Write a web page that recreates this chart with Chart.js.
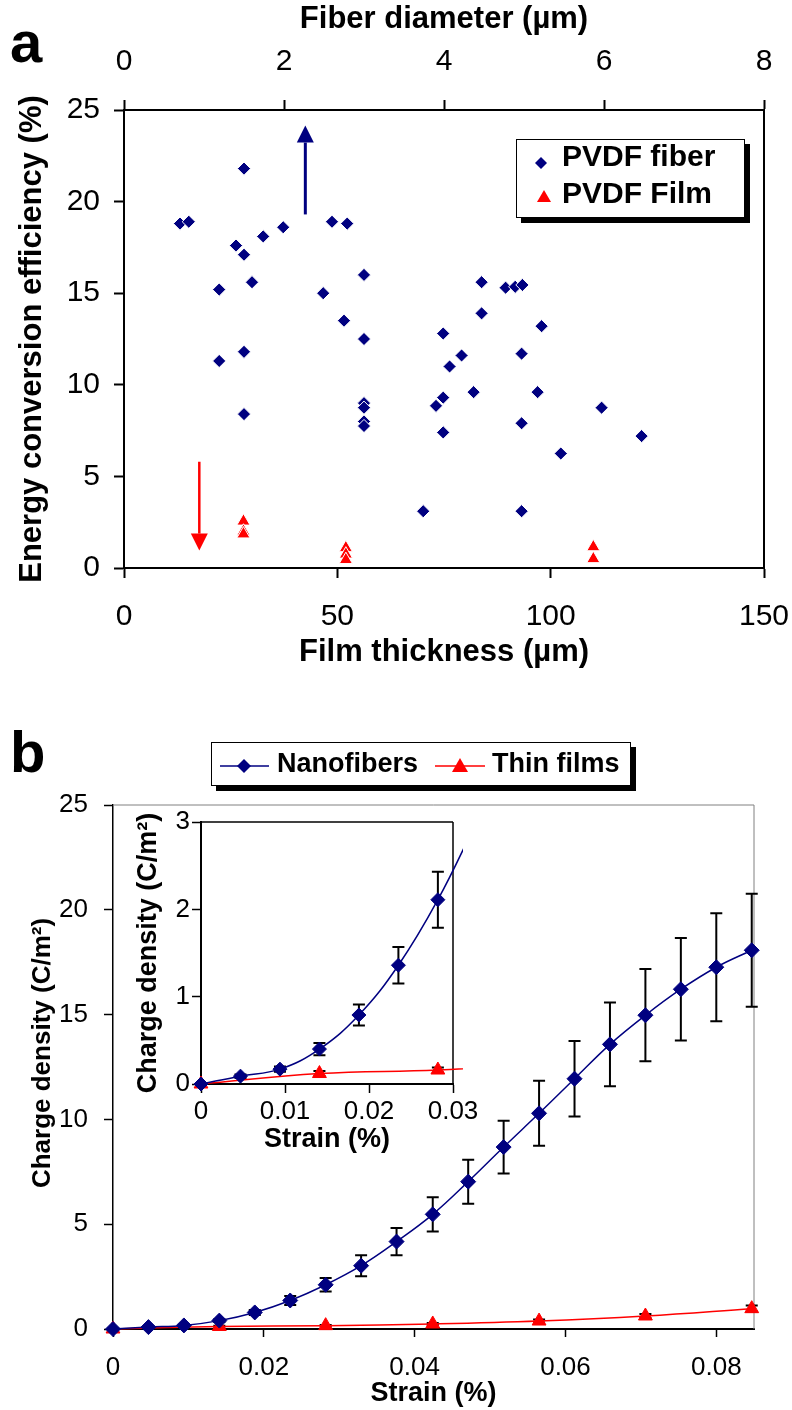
<!DOCTYPE html>
<html>
<head>
<meta charset="utf-8">
<script src="https://cdn.jsdelivr.net/npm/chart.js@4.4.1/dist/chart.umd.min.js"></script>
<style>
  html, body { margin:0; padding:0; background:#fff; }
  body { width:792px; height:1410px; position:relative; overflow:hidden; font-family:"Liberation Sans", Arial, Helvetica, sans-serif; color:#000; }
  canvas { position:absolute; }
  .panel { position:absolute; font-weight:bold; font-size:58px; line-height:58px; }
  .legend { position:absolute; background:#fff; border:1px solid #000; box-shadow:5px 5px 0 #000; z-index:5; }
  .legend span { position:absolute; font-weight:bold; white-space:nowrap; }
  .legend svg { position:absolute; left:0; top:0; }
</style>
</head>
<body>
<canvas id="chartA" width="792" height="690" style="left:0;top:0"></canvas>
<canvas id="chartB" width="792" height="710" style="left:0;top:700px"></canvas>
<canvas id="chartInset" width="370" height="360" style="left:110px;top:800px"></canvas>
<div class="panel" style="left:10px;top:13px">a</div>
<div class="panel" style="left:10px;top:723px">b</div>
<div class="legend" style="left:516px;top:139px;width:227px;height:77px">
  <svg width="227" height="77"><polygon points="24,17 30,23 24,29 18,23" fill="#000080"/><polygon points="27,50 34,62 20,62" fill="#ff0000"/></svg>
  <span style="left:45px;top:1px;font-size:30px;line-height:30px">PVDF fiber</span>
  <span style="left:45px;top:38px;font-size:30px;line-height:30px">PVDF Film</span>
</div>
<div class="legend" style="left:211px;top:742px;width:418px;height:42px">
  <svg width="418" height="42"><line x1="8" y1="23" x2="57" y2="23" stroke="#000080" stroke-width="1.5"/><polygon points="32,16 39,23 32,30 25,23" fill="#000080"/><line x1="223" y1="23" x2="273" y2="23" stroke="#ff0000" stroke-width="1.5"/><polygon points="248,15 256,29 240,29" fill="#ff0000"/></svg>
  <span style="left:65px;top:7px;font-size:27px;line-height:27px">Nanofibers</span>
  <span style="left:280px;top:7px;font-size:27px;line-height:27px">Thin films</span>
</div>
<script>
// ---------------- Panel a data ----------------
const diameterTicks = [0, 2, 4, 6, 8];
const thicknessTicks = [0, 50, 100, 150];
const efficiencyTicks = [0, 5, 10, 15, 20, 25];

const fiberDiameter = [0.70,0.81,1.50,1.40,1.50,1.74,1.99,1.19,1.60,2.60,2.79,3.00,2.49,2.75,3.00,1.19,1.50,1.50,3.00,3.00,3.00,3.00,3.74,3.99,4.07,4.22,3.99,3.90,3.99,4.37,4.47,4.47,4.77,4.89,4.98,4.97,5.17,5.22,4.97,4.97,5.46,5.97,6.47];
const fiberEfficiency = [18.8,18.9,21.8,17.6,17.1,18.1,18.6,15.2,15.6,18.9,18.8,16.0,15.0,13.5,12.5,11.3,11.8,8.4,9.0,8.75,8.0,7.75,3.1,12.8,11.0,11.6,9.3,8.85,7.4,9.6,15.6,13.9,15.3,15.35,15.45,11.7,9.6,13.2,7.9,3.1,6.25,8.75,7.2];

const filmThickness = [28, 28, 28, 52, 52, 52, 110, 110];
const filmEfficiency = [2.55, 2.0, 1.85, 1.1, 0.75, 0.45, 1.15, 0.5];

const arrowThickness = [42.5, 17.65];
const arrowStart = [19.3, 5.8];
const arrowEnd = [24.15, 0.95];

// ---------------- Panel b data ----------------
const strainTicks = [0, 0.02, 0.04, 0.06, 0.08];
const chargeTicks = [0, 5, 10, 15, 20, 25];
const insetStrainTicks = [0, 0.01, 0.02, 0.03];
const insetChargeTicks = [0, 1, 2, 3];

const strain = [0,0.0047,0.0094,0.0141,0.0188,0.0235,0.0282,0.0329,0.0376,0.0424,0.0471,0.0518,0.0565,0.0612,0.0659,0.0706,0.0753,0.0800,0.0847];
const nanofibers = [0,0.09,0.17,0.40,0.79,1.36,2.11,3.02,4.17,5.47,7.03,8.68,10.29,11.94,13.58,14.97,16.21,17.26,18.07];
const nanofiberErr = [0.01,0.02,0.03,0.07,0.12,0.21,0.32,0.50,0.65,0.82,1.05,1.26,1.55,1.80,2.00,2.20,2.45,2.58,2.70];

const filmStrain = [0,0.0141,0.0282,0.0424,0.0565,0.0706,0.0847];
const thinFilms = [0,0.12,0.16,0.24,0.38,0.62,0.97];
const thinFilmErr = [0.01,0.03,0.03,0.05,0.07,0.10,0.15];

const insetFiberCount = 8;
const insetFilmCount = 4;

// ---------------- helpers ----------------
Chart.defaults.font.family = '"Liberation Sans", Arial, Helvetica, sans-serif';
Chart.defaults.color = '#000';

function axis(o) {
  return {
    type: 'linear',
    position: o.position,
    min: o.min, max: o.max,
    afterBuildTicks: s => { s.ticks = o.ticks.map(v => ({ value: v })); },
    afterFit: s => {
      if (o.width !== undefined) s.width = o.width;
      if (o.height !== undefined) s.height = o.height;
      s.paddingLeft = 0; s.paddingRight = 0; s.paddingTop = 0; s.paddingBottom = 0;
    },
    ticks: { font: { size: o.tickSize }, color: '#000', padding: o.tickPad, callback: v => String(v), maxRotation: 0, autoSkip: false },
    grid: { display: true, drawOnChartArea: false, drawTicks: true, tickLength: o.tickLen, tickWidth: o.tickW || 1.5, tickColor: '#000' },
    border: { display: true, color: '#000', width: o.borderW || 1.5 },
    title: { display: o.title !== null, text: o.title || '', font: { size: o.titleSize, weight: 'bold' }, color: '#000', padding: o.titlePad }
  };
}

function framePlugin(id, sides) {
  return {
    id: id,
    beforeDatasetsDraw(chart) {
      const { left, right, top, bottom } = chart.chartArea;
      const ctx = chart.ctx;
      ctx.save();
      sides.forEach(s => {
        ctx.strokeStyle = s.color; ctx.lineWidth = s.width;
        ctx.beginPath();
        if (s.side === 'top') { ctx.moveTo(left, top); ctx.lineTo(right, top); }
        if (s.side === 'right') { ctx.moveTo(right, top); ctx.lineTo(right, bottom); }
        ctx.stroke();
      });
      ctx.restore();
    }
  };
}

// rotated y-axis title placed independently of the axis centre
function yTitlePlugin(id, text, size, x, y) {
  return {
    id: id,
    afterDraw(chart) {
      const ctx = chart.ctx;
      ctx.save();
      ctx.translate(x, y);
      ctx.rotate(-Math.PI / 2);
      ctx.font = 'bold ' + size + 'px "Liberation Sans", Arial, Helvetica, sans-serif';
      ctx.fillStyle = '#000';
      ctx.textAlign = 'center';
      ctx.textBaseline = 'middle';
      ctx.fillText(text, 0, 0);
      ctx.restore();
    }
  };
}

const errorBarPlugin = {
  id: 'errorBars',
  beforeDatasetsDraw(chart) {
    const ctx = chart.ctx;
    chart.data.datasets.forEach((ds, di) => {
      if (!ds.errorBars) return;
      const meta = chart.getDatasetMeta(di);
      const xs = chart.scales[meta.xAxisID], ys = chart.scales[meta.yAxisID];
      const a = chart.chartArea;
      ctx.save();
      if (ds.errClipRight !== undefined) {
        ctx.beginPath();
        ctx.rect(a.left - 20, a.top, (a.right + ds.errClipRight) - (a.left - 20), a.bottom - a.top + 20);
        ctx.clip();
      }
      ctx.strokeStyle = '#000';
      ctx.lineWidth = ds.errWidth || 1.5;
      ds.data.forEach((p, i) => {
        const e = ds.errorBars[i];
        if (!e) return;
        const x = xs.getPixelForValue(p.x);
        const y1 = ys.getPixelForValue(p.y + e), y2 = ys.getPixelForValue(p.y - e);
        const c = ds.errCap || 6;
        ctx.beginPath();
        ctx.moveTo(x, y1); ctx.lineTo(x, y2);
        ctx.moveTo(x - c, y1); ctx.lineTo(x + c, y1);
        ctx.moveTo(x - c, y2); ctx.lineTo(x + c, y2);
        ctx.stroke();
      });
      ctx.restore();
    });
  }
};

const arrowPlugin = {
  id: 'arrows',
  afterDatasetsDraw(chart) {
    const xs = chart.scales.x, ys = chart.scales.y, ctx = chart.ctx;
    const colors = ['#000080', '#ff0000'], widths = [3, 2.5];
    arrowThickness.forEach((ax, i) => {
      const x = xs.getPixelForValue(ax);
      const y0 = ys.getPixelForValue(arrowStart[i]);
      const y1 = ys.getPixelForValue(arrowEnd[i]);
      const dir = Math.sign(y1 - y0), headLen = 17, headHalf = 8.5;
      ctx.save();
      ctx.strokeStyle = colors[i]; ctx.fillStyle = colors[i]; ctx.lineWidth = widths[i];
      ctx.beginPath(); ctx.moveTo(x, y0); ctx.lineTo(x, y1 - dir * headLen); ctx.stroke();
      ctx.beginPath(); ctx.moveTo(x, y1); ctx.lineTo(x - headHalf, y1 - dir * headLen); ctx.lineTo(x + headHalf, y1 - dir * headLen); ctx.closePath(); ctx.fill();
      ctx.restore();
    });
  }
};

const common = { responsive: false, animation: false, devicePixelRatio: 1, events: [] };

// ---------------- Chart a ----------------
new Chart(document.getElementById('chartA'), {
  type: 'scatter',
  data: {
    datasets: [
      { label: 'PVDF fiber', data: fiberDiameter.map((d, i) => ({ x: d, y: fiberEfficiency[i] })), xAxisID: 'x2', yAxisID: 'y',
        pointStyle: 'rectRot', pointRadius: 6.6, backgroundColor: '#000080', borderColor: '#ffffff', borderWidth: 1, clip: false },
      { label: 'PVDF Film', data: filmThickness.map((t, i) => ({ x: t, y: filmEfficiency[i] })), xAxisID: 'x', yAxisID: 'y',
        pointStyle: 'triangle', pointRadius: 7.6, backgroundColor: '#ff0000', borderColor: '#ffffff', borderWidth: 1, clip: false }
    ]
  },
  options: Object.assign({}, common, {
    layout: { padding: { left: 0, right: 28, top: 0, bottom: 0 } },
    plugins: { legend: { display: false }, tooltip: { enabled: false } },
    scales: {
      x: axis({ position: 'bottom', min: 0, max: 150, ticks: thicknessTicks, height: 122, tickSize: 30, tickPad: 21, tickLen: 10, tickW: 2, borderW: 2,
        title: 'Film thickness (µm)', titleSize: 31, titlePad: { top: 0, bottom: 19 } }),
      x2: axis({ position: 'top', min: 0, max: 8, ticks: diameterTicks, height: 110, tickSize: 30, tickPad: 20, tickLen: 10, tickW: 2, borderW: 2,
        title: 'Fiber diameter (µm)', titleSize: 31, titlePad: { top: 1, bottom: 0 } }),
      y: axis({ position: 'left', min: 0, max: 25, ticks: efficiencyTicks, width: 124, tickSize: 30, tickPad: 14, tickLen: 10, tickW: 2, borderW: 2,
        title: 'Energy conversion efficiency (%)', titleSize: 31, titlePad: { top: 14, bottom: 0 } })
    }
  }),
  plugins: [framePlugin('frameA', [{ side: 'right', color: '#000', width: 2 }]), arrowPlugin]
});

// ---------------- Chart b (main) ----------------
new Chart(document.getElementById('chartB'), {
  type: 'scatter',
  data: {
    datasets: [
      { label: 'Nanofibers', data: strain.map((s, i) => ({ x: s, y: nanofibers[i] })), showLine: true, tension: 0.4,
        borderColor: '#000080', borderWidth: 1.5, backgroundColor: '#000080', pointBorderColor: '#000080', pointBorderWidth: 1,
        pointStyle: 'rectRot', pointRadius: 7.5, clip: false, errorBars: nanofiberErr, errCap: 6, errWidth: 2 },
      { label: 'Thin films', data: filmStrain.map((s, i) => ({ x: s, y: thinFilms[i] })), showLine: true, tension: 0.4,
        borderColor: '#ff0000', borderWidth: 1.5, backgroundColor: '#ff0000', pointBorderColor: '#ff0000', pointBorderWidth: 1,
        pointStyle: 'triangle', pointRadius: 8, clip: false, errorBars: thinFilmErr, errCap: 6, errWidth: 2 }
    ]
  },
  options: Object.assign({}, common, {
    layout: { padding: { left: 0, right: 38, top: 105, bottom: 0 } },
    plugins: { legend: { display: false }, tooltip: { enabled: false } },
    scales: {
      x: axis({ position: 'bottom', min: 0, max: 0.085, ticks: strainTicks, height: 81, tickSize: 26, tickPad: 15, tickLen: 8, tickW: 1.5, borderW: 2,
        title: 'Strain (%)', titleSize: 27, titlePad: { top: 0, bottom: 0 } }),
      y: axis({ position: 'left', min: 0, max: 25, ticks: chargeTicks, width: 113, tickSize: 26, tickPad: 16, tickLen: 9, tickW: 1.5, borderW: 1.5,
        title: null, titleSize: 26, titlePad: { top: 28, bottom: 0 } })
    }
  }),
  plugins: [framePlugin('frameB', [{ side: 'top', color: '#808080', width: 1 }, { side: 'right', color: '#808080', width: 1 }]), errorBarPlugin,
            yTitlePlugin('yTitleB', 'Charge density (C/m²)', 26, 43, 353)]
});

// ---------------- Chart b (inset) ----------------
const insetClip = { left: 12, top: 0, right: 10, bottom: 12 };
new Chart(document.getElementById('chartInset'), {
  type: 'scatter',
  data: {
    datasets: [
      { label: 'Nanofibers', data: strain.slice(0, insetFiberCount).map((s, i) => ({ x: s, y: nanofibers[i] })), showLine: true, tension: 0.4,
        borderColor: '#000080', borderWidth: 1.5, backgroundColor: '#000080', pointBorderColor: '#000080', pointBorderWidth: 1,
        pointStyle: 'rectRot', pointRadius: 7, clip: insetClip, errorBars: nanofiberErr.slice(0, insetFiberCount), errCap: 6, errWidth: 2, errClipRight: 0 },
      { label: 'Thin films', data: filmStrain.slice(0, insetFilmCount).map((s, i) => ({ x: s, y: thinFilms[i] })), showLine: true, tension: 0.4,
        borderColor: '#ff0000', borderWidth: 1.5, backgroundColor: '#ff0000', pointBorderColor: '#ff0000', pointBorderWidth: 1,
        pointStyle: 'triangle', pointRadius: 8, clip: insetClip, errorBars: thinFilmErr.slice(0, insetFilmCount), errCap: 6, errWidth: 2, errClipRight: 0 }
    ]
  },
  options: Object.assign({}, common, {
    layout: { padding: { left: 0, right: 27, top: 22, bottom: 0 } },
    plugins: { legend: { display: false }, tooltip: { enabled: false } },
    scales: {
      x: axis({ position: 'bottom', min: 0, max: 0.03, ticks: insetStrainTicks, height: 76, tickSize: 26, tickPad: 3, tickLen: 9, tickW: 1.5, borderW: 2,
        title: 'Strain (%)', titleSize: 27, titlePad: { top: 0, bottom: 4 } }),
      y: axis({ position: 'left', min: 0, max: 3, ticks: insetChargeTicks, width: 91, tickSize: 26, tickPad: 2, tickLen: 9, tickW: 1.5, borderW: 2,
        title: 'Charge density (C/m²)', titleSize: 27, titlePad: { top: 22, bottom: 0 } })
    }
  }),
  plugins: [framePlugin('frameI', [{ side: 'top', color: '#000', width: 1.5 }, { side: 'right', color: '#000', width: 1.5 }]), errorBarPlugin]
});
</script>
</body>
</html>
